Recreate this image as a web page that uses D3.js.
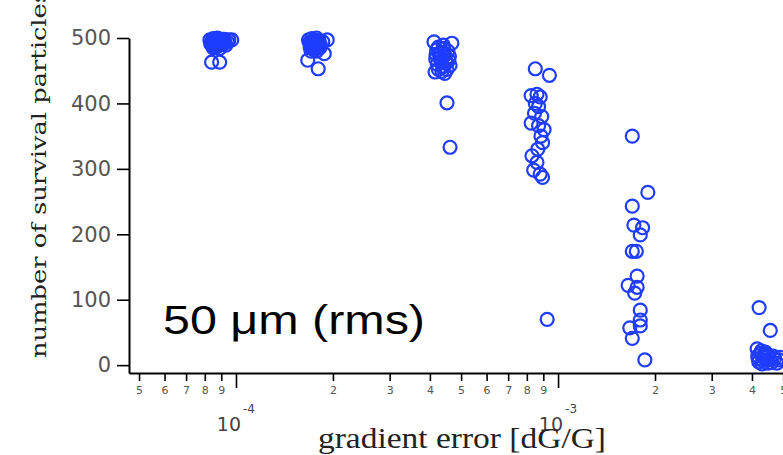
<!DOCTYPE html>
<html>
<head>
<meta charset="utf-8">
<script src="https://cdn.jsdelivr.net/npm/d3@7"></script>
<style>
  body { margin: 0; background: #fff; }
  svg { display: block; }
  .tocka { fill: none; stroke: #1f3cff; stroke-width: 2.2; }
  .os path, .os line { stroke: #000; }
  .os path { stroke-width: 2; }
  .os line { stroke-width: 1.6; }
  .os text { fill: #555; font-family: "DejaVu Sans", sans-serif; }
</style>
</head>
<body>
<div id="okvir"></div>
<script>
// gradient error u jedinicama 1e-4, broj preživjelih čestica
const errA  = [0.83, 0.84, 0.85, 0.86, 0.87, 0.875, 0.88, 0.89, 0.90, 0.91, 0.92, 0.93, 0.95, 0.86, 0.89, 0.84, 0.89, 0.97,
               0.835, 0.845, 0.855, 0.865, 0.87, 0.88, 0.885, 0.895, 0.90, 0.905, 0.915, 0.85, 0.87, 0.86, 0.88, 0.92, 0.94]
const survA = [497, 493, 499, 490, 495, 500, 488, 496, 492, 498, 494, 489, 497, 486, 484, 463, 463, 497,
               491, 496, 488, 494, 491, 497, 493, 490, 496, 494, 491, 485, 487, 495, 499, 498, 494]

const errB  = [1.68, 1.70, 1.72, 1.74, 1.76, 1.78, 1.80, 1.82, 1.86, 1.92, 1.72, 1.78, 1.67, 1.80, 1.88,
               1.69, 1.71, 1.73, 1.75, 1.77, 1.79, 1.81, 1.70, 1.74, 1.76, 1.83, 1.71, 1.75]
const survB = [497, 492, 499, 488, 495, 500, 490, 485, 494, 497, 484, 480, 466, 453, 476,
               493, 489, 495, 497, 490, 493, 496, 486, 492, 486, 489, 480, 482]

const errC  = [4.12, 4.68, 4.25, 4.40, 4.55, 4.18, 4.30, 4.48, 4.60, 4.22, 4.38, 4.52, 4.15, 4.45, 4.62, 4.35, 4.52, 4.62,
               4.20, 4.28, 4.33, 4.42, 4.50, 4.58, 4.25, 4.45, 4.17, 4.36]
const survC = [494, 492, 486, 489, 480, 475, 470, 466, 472, 460, 456, 452, 448, 446, 458, 478, 401, 333,
               482, 476, 463, 484, 462, 466, 452, 474, 468, 449]

const errD  = [8.50, 9.40, 8.25, 8.60, 8.80, 8.50, 8.70, 8.45, 8.90, 8.25, 8.70, 9.05, 8.85, 8.95, 8.65, 8.30, 8.60, 8.40, 8.80, 8.95, 9.25]
const survD = [453, 443, 412, 414, 410, 400, 395, 385, 380, 370, 366, 360, 350, 340, 330, 320, 310, 298, 292, 287, 70]

const errE  = [17.0, 19.0, 17.0, 17.2, 18.3, 18.0, 17.0, 17.5, 17.6, 16.5, 17.6, 17.3, 18.0, 18.0, 16.7, 18.0, 17.0, 18.6]
const survE = [350, 264, 243, 214, 210, 199, 174, 174, 136, 122, 119, 110, 84, 69, 57, 60, 41, 8]

const errF  = [42.1, 45.6, 41.5, 42.5, 43.5, 44.5, 42.0, 43.0, 45.0, 46.0, 47.0, 48.5, 41.8, 44.0, 49.0,
               42.8, 43.8, 44.8, 46.5, 41.7, 43.2, 45.5, 47.8]
const survF = [88, 53, 25, 18, 12, 8, 5, 2, 15, 4, 10, 8, 10, 20, 12,
               22, 16, 3, 14, 14, 7, 9, 3]

const yTicks = [0, 100, 200, 300, 400, 500]
const xMinor = [0.5, 0.6, 0.7, 0.8, 0.9, 2, 3, 4, 5, 6, 7, 8, 9, 20, 30, 40, 50]
const xMajor = [1, 10]
const xMajorExp = ["-4", "-3"]

const xNaslov = "gradient error [dG/G]"
const yNaslov = "number of survival particles"
const biljeska = "50 \u03bcm (rms)"

function crtaj() {
  const sirina = 783
  const visina = 455

  const okvir = d3.select("#okvir")
    .append("svg")
      .attr("width", sirina)
      .attr("height", visina)

  const xSkala = d3.scaleLog()
    .domain([0.4654, 52.5])
    .range([129, 790])

  const ySkala = d3.scaleLinear()
    .domain([-12, 500])
    .range([373, 38])

  // sve točke zajedno
  const grupe = [[errA, survA], [errB, survB], [errC, survC], [errD, survD], [errE, survE], [errF, survF]]
  const tocke = grupe.flatMap(([e, s]) => e.map((v, i) => ({ err: v, surv: s[i] })))

  okvir.append("g")
    .selectAll("circle")
    .data(tocke)
    .enter().append("circle")
      .attr("class", "tocka")
      .attr("cx", d => xSkala(d.err))
      .attr("cy", d => ySkala(d.surv))
      .attr("r", 6.5)

  // osi
  const yOs = okvir.append("g")
      .attr("class", "os")
      .attr("transform", "translate(129,0)")
    .call(d3.axisLeft(ySkala).tickValues(yTicks).tickSize(12).tickSizeOuter(0).tickPadding(6))
  yOs.selectAll("text").style("font-size", "21px")

  const xOs = okvir.append("g")
      .attr("class", "os")
      .attr("transform", "translate(0,373)")
    .call(d3.axisBottom(xSkala).tickValues(xMinor).tickSize(8).tickSizeOuter(0).tickPadding(5)
      .tickFormat(d => String(Math.round(d / Math.pow(10, Math.floor(Math.log10(d) + 1e-9))))))
  xOs.selectAll("text").style("font-size", "11px")

  const xOsVelika = okvir.append("g")
      .attr("class", "os")
      .attr("transform", "translate(0,373)")
    .call(d3.axisBottom(xSkala).tickValues(xMajor).tickSize(15).tickFormat(""))
  xOsVelika.select(".domain").remove()

  const oznake = okvir.append("g")
    .selectAll("g")
    .data(xMajor)
    .enter().append("g")
      .attr("transform", d => `translate(${xSkala(d)},0)`)
      .style("font-family", "'DejaVu Sans', sans-serif")
      .style("fill", "#444")
  oznake.append("text")
      .attr("x", 5)
      .attr("y", 431)
      .attr("text-anchor", "end")
      .style("font-size", "19px")
      .text("10")
  oznake.append("text")
      .attr("x", 7)
      .attr("y", 413)
      .style("font-size", "12px")
      .text((d, i) => xMajorExp[i])

  // naslovi
  okvir.append("text")
      .attr("x", 462)
      .attr("y", 448)
      .attr("text-anchor", "middle")
      .attr("textLength", 288)
      .attr("lengthAdjust", "spacingAndGlyphs")
      .style("font-family", "'Liberation Serif', serif")
      .style("font-size", "30px")
      .style("fill", "#222")
      .text(xNaslov)

  okvir.append("text")
      .attr("transform", "translate(46,358) rotate(-90)")
      .attr("textLength", 368)
      .attr("lengthAdjust", "spacingAndGlyphs")
      .style("font-family", "'DejaVu Serif', serif")
      .style("font-size", "21px")
      .style("fill", "#222")
      .text(yNaslov)

  okvir.append("text")
      .attr("x", 163)
      .attr("y", 334)
      .attr("textLength", 262)
      .attr("lengthAdjust", "spacingAndGlyphs")
      .style("font-family", "'Liberation Sans', Arial, sans-serif")
      .style("font-size", "40px")
      .style("fill", "#000")
      .text(biljeska)
}
crtaj()
</script>
</body>
</html>
